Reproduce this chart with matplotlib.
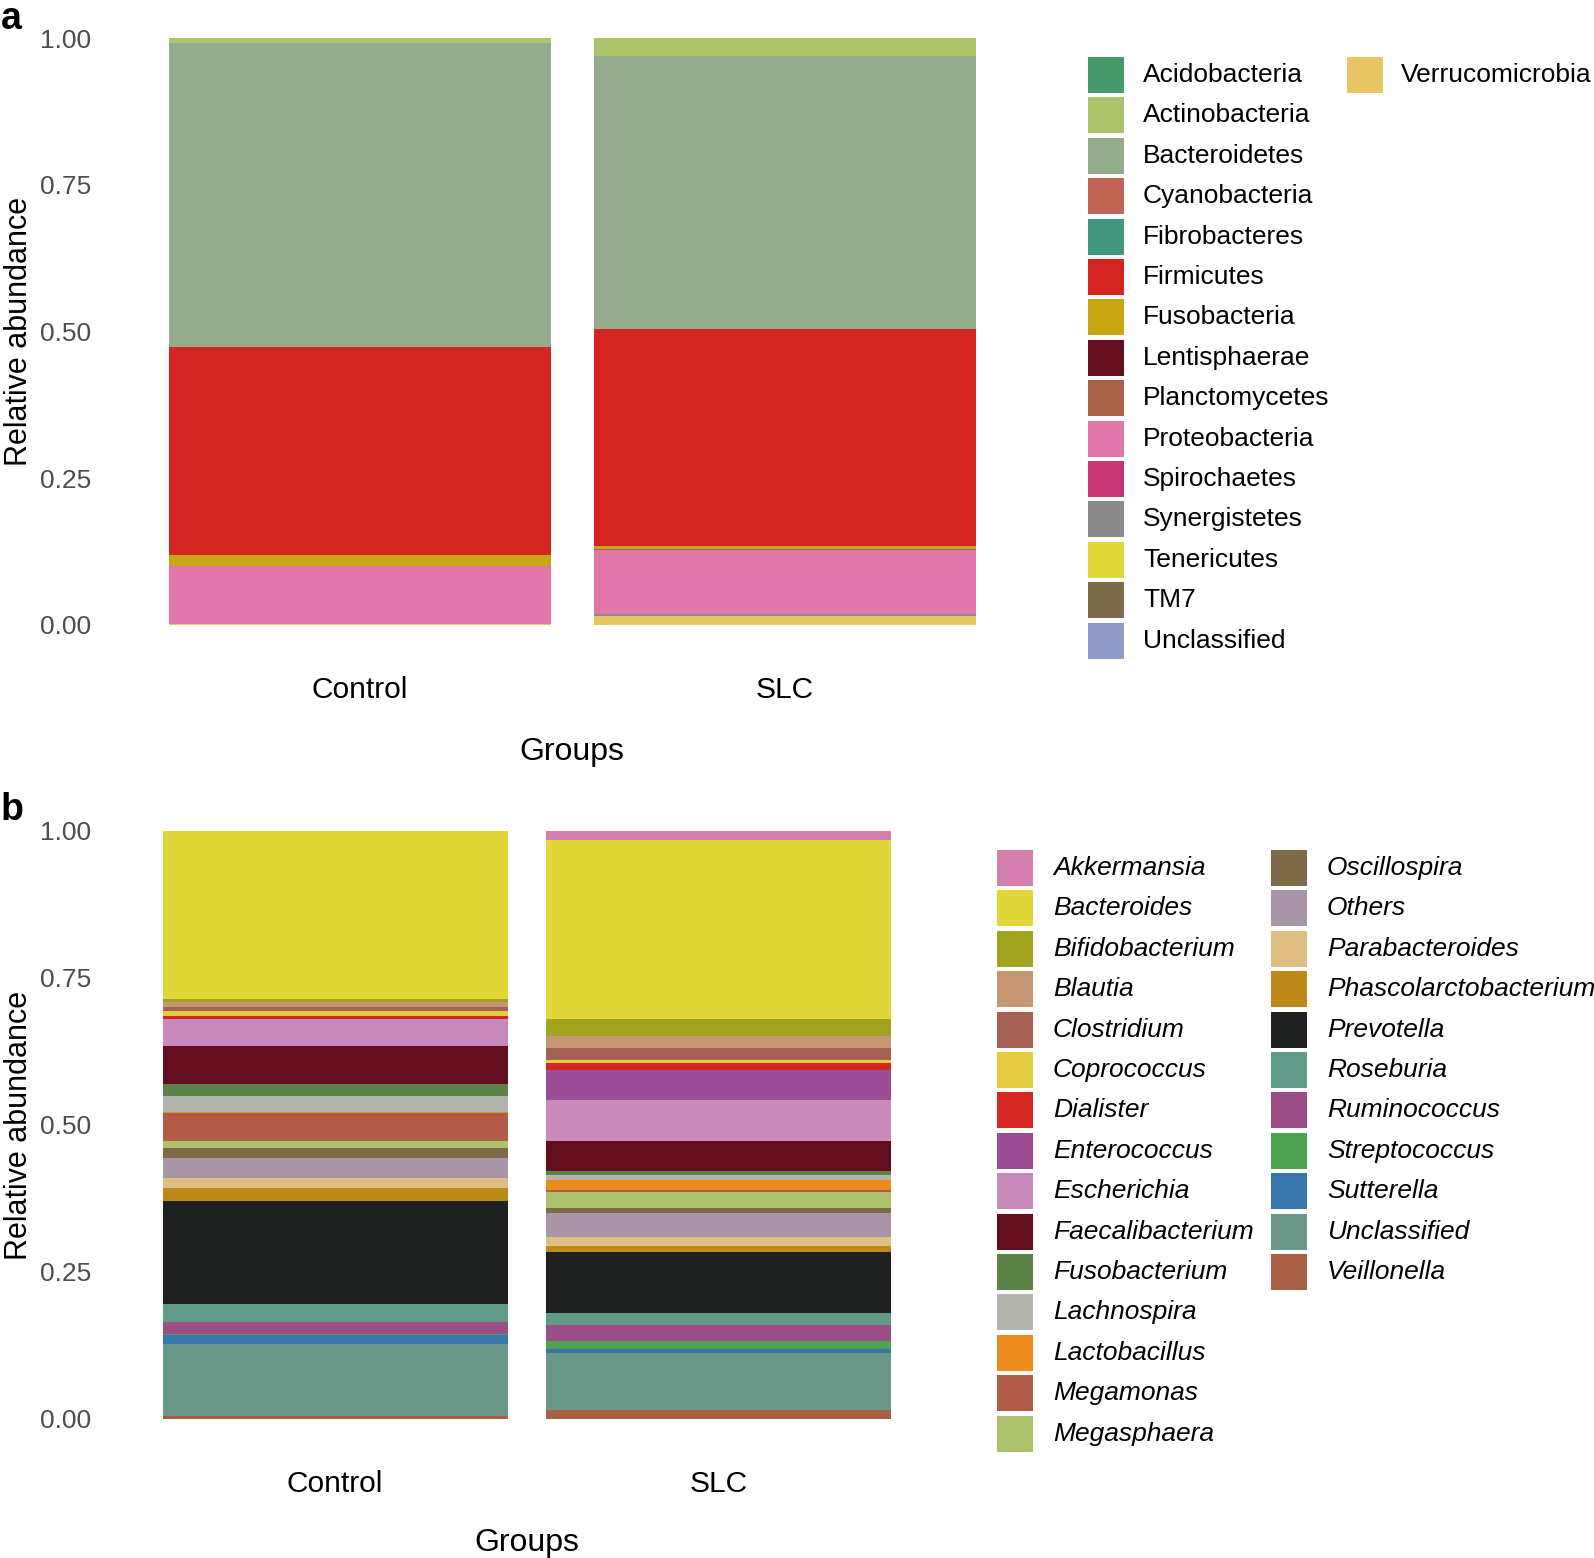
import matplotlib
matplotlib.use("Agg")
import matplotlib.pyplot as plt
from matplotlib.patches import Rectangle
import numpy as np

plt.rcParams['font.family'] = ['Liberation Sans', 'DejaVu Sans']

W, H = 1594, 1558

groups = ["Control", "SLC"]

# ---- panel a: phylum level ----
phyla = ["Acidobacteria", "Actinobacteria", "Bacteroidetes", "Cyanobacteria",
         "Fibrobacteres", "Firmicutes", "Fusobacteria", "Lentisphaerae",
         "Planctomycetes", "Proteobacteria", "Spirochaetes", "Synergistetes",
         "Tenericutes", "TM7", "Unclassified", "Verrucomicrobia"]
phyla_control = [0.0, 0.008, 0.518, 0.0, 0.0, 0.3547, 0.0199, 0.0,
                 0.0, 0.0977, 0.0, 0.0, 0.0, 0.0, 0.0, 0.0017]
phyla_slc = [0.0, 0.030, 0.4655, 0.0, 0.0, 0.3699, 0.0057, 0.0,
             0.002, 0.108, 0.0, 0.0045, 0.0, 0.0, 0.0, 0.0142]
phyla_colors = ["#469A69", "#AEC46A", "#93AD8C", "#C06455", "#43967E", "#D42421",
                "#C9A614", "#620E1F", "#A8614A", "#E077A8", "#C63672", "#8A8A8A",
                "#E1D839", "#7C6A48", "#909BC6", "#E6C563"]

# ---- panel b: genus level ----
genera = ["Akkermansia", "Bacteroides", "Bifidobacterium", "Blautia", "Clostridium",
          "Coprococcus", "Dialister", "Enterococcus", "Escherichia", "Faecalibacterium",
          "Fusobacterium", "Lachnospira", "Lactobacillus", "Megamonas", "Megasphaera",
          "Oscillospira", "Others", "Parabacteroides", "Phascolarctobacterium",
          "Prevotella", "Roseburia", "Ruminococcus", "Streptococcus", "Sutterella",
          "Unclassified", "Veillonella"]
genus_control = [0.0, 0.286, 0.005, 0.008, 0.0074, 0.0074, 0.006, 0.0, 0.046, 0.065,
                 0.019, 0.028, 0.002, 0.048, 0.012, 0.017, 0.033, 0.017, 0.023,
                 0.174, 0.032, 0.019, 0.003, 0.0148, 0.123, 0.004]
genus_slc = [0.014, 0.306, 0.029, 0.020, 0.020, 0.0045, 0.012, 0.051, 0.070, 0.052,
             0.0057, 0.0085, 0.0176, 0.0034, 0.027, 0.009, 0.040, 0.0165, 0.010,
             0.103, 0.0216, 0.027, 0.013, 0.0068, 0.097, 0.0148]
genus_colors = ["#D47FAE", "#E1D739", "#A2A31E", "#C59873", "#A56254", "#E4CD41",
                "#D42622", "#9B4C94", "#C78ABB", "#620E1F", "#5B8347", "#B4B4AE",
                "#EE8B1E", "#B05C48", "#ACC26C", "#7D6946", "#A896A8", "#E0BF85",
                "#BD8918", "#1F2020", "#5F9B88", "#9B4D86", "#4FA24F", "#3776AA",
                "#6A9788", "#A95F44"]

fig = plt.figure(figsize=(W / 100, H / 100), dpi=100)


def add_ax(left, top, right, bottom):
    return fig.add_axes([left / W, 1 - bottom / H, (right - left) / W, (bottom - top) / H])


def draw_stack(ax, names, values_by_group, colors):
    x = np.arange(1, len(groups) + 1)
    bottoms = np.zeros(len(groups))
    # ggplot stacks first level on top -> draw from last level upward
    for i in range(len(names) - 1, -1, -1):
        vals = np.array([v[i] for v in values_by_group])
        ax.bar(x, vals, width=0.9, bottom=bottoms, color=colors[i], linewidth=0)
        bottoms += vals
    ax.set_xlim(0.4, 2.6)
    ax.set_ylim(-0.05, 1.05)
    ax.set_xticks(x)
    ax.set_xticklabels(groups, fontsize=21.5, color="black")
    ax.set_yticks([0, 0.25, 0.5, 0.75, 1.0])
    ax.set_yticklabels(["0.00", "0.25", "0.50", "0.75", "1.00"], fontsize=19, color="#4D4D4D")
    ax.tick_params(axis="both", length=0)
    ax.tick_params(axis="x", pad=15.5)
    ax.tick_params(axis="y", pad=10)
    for s in ax.spines.values():
        s.set_visible(False)


def draw_legend(names, colors, nrow, col_key_x, col_text_x, y0, italic=False):
    step = 40.4
    ks = 36
    for i, (n, c) in enumerate(zip(names, colors)):
        col = i // nrow
        row = i % nrow
        cy = y0 + row * step
        kx = col_key_x[col]
        fig.add_artist(Rectangle((kx / W, 1 - (cy + ks / 2) / H), ks / W, ks / H,
                                 transform=fig.transFigure, facecolor=c, edgecolor="none"))
        fig.text(col_text_x[col] / W, 1 - cy / H, n, fontsize=19, va="center", ha="left",
                 style="italic" if italic else "normal", color="black")


# panel a
ax_a = add_ax(105, 9, 1040, 654)
draw_stack(ax_a, phyla, [phyla_control, phyla_slc], phyla_colors)
fig.text(572 / W, 1 - 752 / H, "Groups", fontsize=23, ha="center", va="center")
fig.text(19 / W, 1 - 331 / H, "Relative abundance", fontsize=22, ha="center", va="center",
         rotation=90)
draw_legend(phyla, phyla_colors, 15, [1088, 1347], [1143, 1401], 75)
fig.text(1 / W, 1 - 1 / H, "a", fontsize=27, fontweight="bold", ha="left", va="top")

# panel b
ax_b = add_ax(105, 801.6, 949, 1448)
draw_stack(ax_b, genera, [genus_control, genus_slc], genus_colors)
fig.text(527 / W, 1 - 1543 / H, "Groups", fontsize=23, ha="center", va="center")
fig.text(19 / W, 1 - 1125 / H, "Relative abundance", fontsize=22, ha="center", va="center",
         rotation=90)
draw_legend(genera, genus_colors, 15, [997, 1271], [1053, 1327], 868, italic=True)
fig.text(1 / W, 1 - 792 / H, "b", fontsize=27, fontweight="bold", ha="left", va="top")

fig.savefig("out.png", dpi=100)
